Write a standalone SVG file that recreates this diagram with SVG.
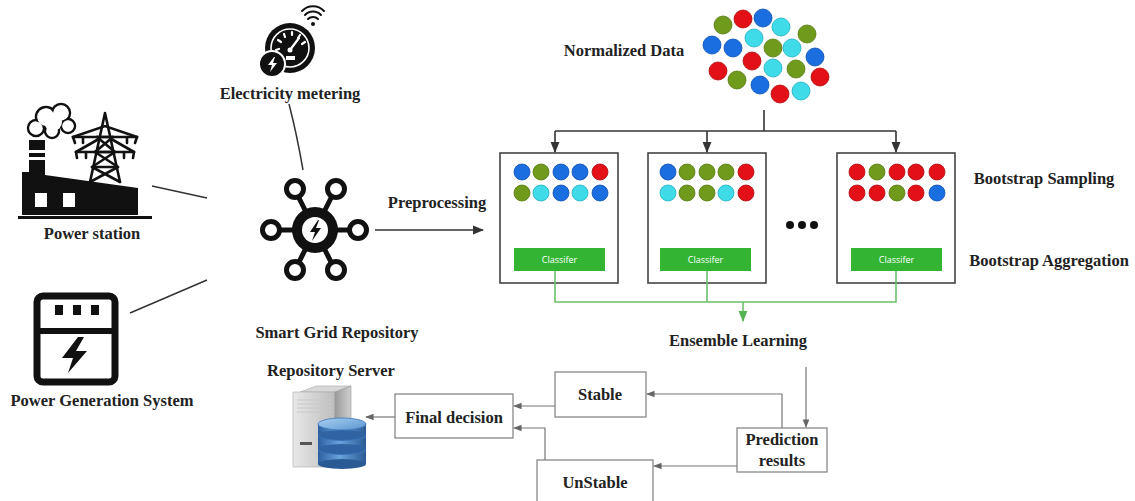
<svg xmlns="http://www.w3.org/2000/svg" width="1135" height="501" viewBox="0 0 1135 501">
  <style>
    .lbl { font-family: "Liberation Serif", "Times New Roman", serif; font-weight: bold; font-size: 16.5px; fill: #222; text-anchor: middle; }
    .box { fill: #fff; stroke: #444; stroke-width: 1.6; }
    .sbox { fill: #fff; stroke: #888; stroke-width: 1.3; }
    .clf { fill: #33b533; }
    .clft { font-family: "Open Sans", "Liberation Sans", sans-serif; font-size: 9px; fill: #fff; text-anchor: middle; }
    .blk { stroke: #333; stroke-width: 1.6; fill: none; }
    .grn { stroke: #6cc06c; stroke-width: 1.6; fill: none; }
    .gry { stroke: #777; stroke-width: 1.2; fill: none; }
    .lnk { stroke: #333; stroke-width: 1.5; fill: none; }
    .b { fill: #1a6ee0; stroke: #0c4fb0; stroke-width: 0.8; }
    .g { fill: #6f9a1c; stroke: #557a10; stroke-width: 0.8; }
    .r { fill: #e41018; stroke: #b00a10; stroke-width: 0.8; }
    .c { fill: #3fdbe8; stroke: #1fb0c0; stroke-width: 0.8; }
    .icon { fill: #111; }
  </style>
  <defs>
    <marker id="ah" viewBox="0 0 10 10" refX="9" refY="5" markerWidth="7" markerHeight="7" orient="auto">
      <path d="M0,1 L10,5 L0,9 z" fill="#333"/>
    </marker>
    <marker id="ahg" viewBox="0 0 10 10" refX="9" refY="5" markerWidth="7" markerHeight="7" orient="auto">
      <path d="M0,1 L10,5 L0,9 z" fill="#55b555"/>
    </marker>
    <marker id="ahs" viewBox="0 0 10 10" refX="9" refY="5" markerWidth="7" markerHeight="7" orient="auto">
      <path d="M0,1 L10,5 L0,9 z" fill="#666"/>
    </marker>
    <linearGradient id="towerFront" x1="0" y1="0" x2="1" y2="0">
      <stop offset="0" stop-color="#e8e8e8"/>
      <stop offset="1" stop-color="#bdbdbd"/>
    </linearGradient>
    <linearGradient id="towerSide" x1="0" y1="0" x2="1" y2="0">
      <stop offset="0" stop-color="#9a9a9a"/>
      <stop offset="1" stop-color="#cfcfcf"/>
    </linearGradient>
    <linearGradient id="dbBody" x1="0" y1="0" x2="1" y2="0">
      <stop offset="0" stop-color="#2c5f9e"/>
      <stop offset="0.45" stop-color="#6aa3dc"/>
      <stop offset="1" stop-color="#2a5a94"/>
    </linearGradient>
    <linearGradient id="dbTop" x1="0" y1="0" x2="1" y2="1">
      <stop offset="0" stop-color="#a9d0f2"/>
      <stop offset="1" stop-color="#5b95d0"/>
    </linearGradient>
  </defs>

  <!-- Power station -->
  <g id="power-station">
    <path class="icon" d="M22,215 L22,172 L29,172 L29,140 L45,140 L45,175 L138,188 L138,215 Z"/>
    <rect x="29" y="150" width="16" height="3" fill="#fff"/>
    <rect x="29" y="157" width="16" height="3" fill="#fff"/>
    <g fill="#fff" stroke="#111" stroke-width="2.5">
      <circle cx="36" cy="128" r="8"/>
      <circle cx="46" cy="117" r="10"/>
      <circle cx="61" cy="113" r="9"/>
      <circle cx="68" cy="126" r="7"/>
      <circle cx="52" cy="131" r="7"/>
    </g>
    <g fill="#fff">
      <circle cx="36" cy="128" r="6.5"/>
      <circle cx="46" cy="117" r="8.5"/>
      <circle cx="61" cy="113" r="7.5"/>
      <circle cx="68" cy="126" r="5.5"/>
      <circle cx="52" cy="131" r="5.5"/>
      <circle cx="53" cy="122" r="9"/>
    </g>
    <g stroke="#111" stroke-width="2.6" fill="none" stroke-linecap="round">
      <path d="M105,113 L90,182 M105,113 L120,182"/>
      <path d="M97,137 L113,137 M95,152 L115,152 M92,167 L118,167"/>
      <path d="M97,137 L115,152 M113,137 L95,152 M95,152 L118,167 M115,152 L92,167 M92,167 L120,182 M118,167 L90,182"/>
      <path d="M73,137 L137,137 M76,152 L134,152"/>
      <path d="M73,137 L75,143 M83,137 L83,143 M127,137 L127,143 M137,137 L135,143"/>
      <path d="M76,152 L77,158 M86,152 L86,158 M124,152 L124,158 M134,152 L133,158"/>
      <path d="M73,137 L105,126 L137,137 M76,152 L97,140 M134,152 L113,140"/>
    </g>
    <rect x="35" y="193" width="12" height="14" fill="#fff"/>
    <rect x="63" y="193" width="12" height="14" fill="#fff"/>
    <rect x="18" y="216" width="134" height="3" class="icon"/>
    <text class="lbl" x="92" y="239">Power station</text>
  </g>

  <!-- Power generation system -->
  <g id="power-generation">
    <rect x="37" y="296" width="78" height="86" rx="6" fill="#fff" stroke="#111" stroke-width="7"/>
    <path d="M40,331 L112,331" stroke="#111" stroke-width="6"/>
    <rect x="55" y="305" width="8" height="10" class="icon"/>
    <rect x="73" y="305" width="8" height="10" class="icon"/>
    <rect x="91" y="305" width="8" height="10" class="icon"/>
    <path class="icon" d="M78,337 L62,358 L73,358 L68,373 L87,351 L76,351 L84,337 Z"/>
    <text class="lbl" x="102" y="406">Power Generation System</text>
  </g>

  <!-- Electricity metering -->
  <g id="electricity-metering">
    <circle cx="290" cy="48" r="25" class="icon"/>
    <circle cx="290" cy="48" r="19" fill="none" stroke="#fff" stroke-width="1.6"/>
    <g stroke="#fff" stroke-width="2.2" stroke-linecap="round">
      <path d="M276,50 L279,49 M278,40 L281,42 M284,34 L285,37 M292,32 L292,35 M300,35 L298,38 M305,42 L302,44"/>
      <path d="M290,50 L299,38"/>
    </g>
    <circle cx="290" cy="50" r="2.5" fill="#fff"/>
    <rect x="286" y="56" width="9" height="4" fill="#fff"/>
    <circle cx="272" cy="64" r="13" class="icon" stroke="#fff" stroke-width="2"/>
    <path d="M274,57 L268,65 L272,65 L270,72 L277,63 L273,63 L275,57 Z" fill="#fff"/>
    <circle cx="313" cy="24" r="2" class="icon"/>
    <g stroke="#111" stroke-width="2" fill="none" stroke-linecap="round">
      <path d="M308,19 A7,7 0 0 1 318,19"/>
      <path d="M305,15 A11,11 0 0 1 321,15"/>
      <path d="M302,11 A15,15 0 0 1 324,11"/>
    </g>
    <text class="lbl" x="290" y="99">Electricity metering</text>
  </g>

  <!-- Smart grid hub -->
  <g id="smart-grid">
    <g stroke="#111" stroke-width="5">
      <path d="M315,230 L295,190 M315,230 L335,190 M315,230 L272,230 M315,230 L357,230 M315,230 L295,270 M315,230 L335,270"/>
    </g>
    <g fill="#fff" stroke="#111" stroke-width="5">
      <circle cx="295" cy="189" r="8.5"/>
      <circle cx="336" cy="189" r="8.5"/>
      <circle cx="271" cy="230" r="8.5"/>
      <circle cx="358" cy="230" r="8.5"/>
      <circle cx="295" cy="270" r="8.5"/>
      <circle cx="336" cy="270" r="8.5"/>
    </g>
    <circle cx="315" cy="230" r="23" class="icon"/>
    <circle cx="315" cy="230" r="13" fill="#fff"/>
    <path class="icon" d="M318,220 L310,232 L315,232 L312,241 L321,228 L316,228 L319,220 Z"/>
    <text class="lbl" x="337" y="338">Smart Grid Repository</text>
  </g>

  <!-- Repository server -->
  <g id="repository-server">
    <text class="lbl" x="331" y="376">Repository Server</text>
    <path d="M300,392 L316,386 L351,386 L335,392 Z" fill="#d8d8d8" stroke="#aaa" stroke-width="0.6"/>
    <rect x="293" y="392" width="42" height="75" fill="url(#towerFront)" stroke="#aaa" stroke-width="0.6"/>
    <path d="M335,392 L351,386 L351,460 L335,467 Z" fill="url(#towerSide)" stroke="#999" stroke-width="0.6"/>
    <g stroke="#c8c8c8" stroke-width="1">
      <path d="M297,400 L332,400 M297,404 L332,404 M297,408 L332,408 M297,412 L332,412"/>
    </g>
    <rect x="300" y="442" width="12" height="3" fill="#555"/>
    <g>
      <rect x="318" y="450" width="48" height="14" fill="url(#dbBody)"/>
      <ellipse cx="342" cy="464" rx="24" ry="5" fill="#2a5a94"/>
      <ellipse cx="342" cy="450" rx="24" ry="5" fill="#3a74b8"/>
      <rect x="318" y="436" width="48" height="13" fill="url(#dbBody)"/>
      <ellipse cx="342" cy="449" rx="24" ry="5" fill="#2f63a2"/>
      <ellipse cx="342" cy="436" rx="24" ry="5" fill="#3a74b8"/>
      <rect x="318" y="424" width="48" height="11" fill="url(#dbBody)"/>
      <ellipse cx="342" cy="435" rx="24" ry="5" fill="#2f63a2"/>
      <ellipse cx="342" cy="424" rx="24" ry="6" fill="url(#dbTop)" stroke="#3a74b8" stroke-width="0.8"/>
    </g>
  </g>

  <!-- Normalized data cluster -->
  <g id="normalized-data">
    <text class="lbl" x="624" y="56">Normalized Data</text>
    <circle class="g" cx="723" cy="25" r="9"/>
    <circle class="r" cx="743" cy="19" r="9"/>
    <circle class="b" cx="763" cy="18" r="9"/>
    <circle class="c" cx="781" cy="27" r="9"/>
    <circle class="g" cx="807" cy="34" r="9"/>
    <circle class="b" cx="712" cy="45" r="9"/>
    <circle class="b" cx="733" cy="48" r="9"/>
    <circle class="c" cx="754" cy="38" r="9"/>
    <circle class="g" cx="773" cy="48" r="9"/>
    <circle class="c" cx="792" cy="48" r="9"/>
    <circle class="b" cx="815" cy="57" r="9"/>
    <circle class="r" cx="752" cy="61" r="9"/>
    <circle class="c" cx="773" cy="68" r="9"/>
    <circle class="g" cx="796" cy="69" r="9"/>
    <circle class="r" cx="718" cy="71" r="9"/>
    <circle class="g" cx="737" cy="80" r="9"/>
    <circle class="b" cx="760" cy="85" r="9"/>
    <circle class="r" cx="780" cy="94" r="9"/>
    <circle class="c" cx="801" cy="91" r="9"/>
    <circle class="r" cx="820" cy="77" r="9"/>
  </g>

  <!-- Bootstrap sample 1 -->
  <g id="sample-1">
    <rect class="box" x="500" y="153" width="118" height="130"/>
    <circle class="b" cx="522" cy="172" r="8"/><circle class="g" cx="541" cy="172" r="8"/><circle class="b" cx="561" cy="172" r="8"/><circle class="b" cx="580" cy="172" r="8"/><circle class="r" cx="600" cy="172" r="8"/>
    <circle class="g" cx="522" cy="193" r="8"/><circle class="c" cx="541" cy="193" r="8"/><circle class="b" cx="561" cy="193" r="8"/><circle class="c" cx="580" cy="193" r="8"/><circle class="b" cx="600" cy="193" r="8"/>
    <rect class="clf" x="514" y="248" width="91" height="23"/>
    <text class="clft" x="559.5" y="263">Classifer</text>
  </g>

  <!-- Bootstrap sample 2 -->
  <g id="sample-2">
    <rect class="box" x="648" y="153" width="118" height="130"/>
    <circle class="b" cx="668" cy="172" r="8"/><circle class="g" cx="687" cy="172" r="8"/><circle class="g" cx="707" cy="172" r="8"/><circle class="g" cx="726" cy="172" r="8"/><circle class="r" cx="746" cy="172" r="8"/>
    <circle class="c" cx="668" cy="193" r="8"/><circle class="g" cx="687" cy="193" r="8"/><circle class="g" cx="707" cy="193" r="8"/><circle class="c" cx="726" cy="193" r="8"/><circle class="r" cx="746" cy="193" r="8"/>
    <rect class="clf" x="660" y="248" width="91" height="23"/>
    <text class="clft" x="705.5" y="263">Classifer</text>
  </g>

  <!-- Ellipsis between samples -->
  <g id="ellipsis" fill="#111">
    <circle cx="790" cy="225" r="4"/>
    <circle cx="802" cy="225" r="4"/>
    <circle cx="814" cy="225" r="4"/>
  </g>

  <!-- Bootstrap sample n -->
  <g id="sample-n">
    <rect class="box" x="837" y="153" width="118" height="130"/>
    <circle class="r" cx="857" cy="172" r="8"/><circle class="g" cx="877" cy="172" r="8"/><circle class="r" cx="897" cy="172" r="8"/><circle class="r" cx="916" cy="172" r="8"/><circle class="r" cx="937" cy="172" r="8"/>
    <circle class="r" cx="857" cy="193" r="8"/><circle class="r" cx="877" cy="193" r="8"/><circle class="g" cx="897" cy="193" r="8"/><circle class="r" cx="916" cy="193" r="8"/><circle class="b" cx="937" cy="193" r="8"/>
    <rect class="clf" x="851" y="248" width="91" height="23"/>
    <text class="clft" x="896.5" y="263">Classifer</text>
  </g>

  <g id="stage-labels">
    <text class="lbl" x="1044" y="184">Bootstrap Sampling</text>
    <text class="lbl" x="1049" y="266">Bootstrap Aggregation</text>
    <text class="lbl" x="437" y="208">Preprocessing</text>
    <text class="lbl" x="738" y="346">Ensemble Learning</text>
  </g>

  <!-- Decision boxes -->
  <g id="stable">
    <rect class="sbox" x="555" y="372" width="91" height="45"/>
    <text class="lbl" x="600" y="400">Stable</text>
  </g>
  <g id="unstable">
    <rect class="sbox" x="537" y="460" width="116" height="50"/>
    <text class="lbl" x="595" y="488">UnStable</text>
  </g>
  <g id="prediction">
    <rect class="sbox" x="737" y="428" width="90" height="44"/>
    <text class="lbl" x="782" y="445">Prediction</text>
    <text class="lbl" x="782" y="466">results</text>
  </g>
  <g id="final-decision">
    <rect class="sbox" x="395" y="394" width="118" height="44"/>
    <text class="lbl" x="454" y="423">Final decision</text>
  </g>

  <!-- Connectors -->
  <g id="connectors">
    <path class="lnk" d="M152,186 L207,198"/>
    <path class="lnk" d="M130,313 L207,280"/>
    <path class="lnk" d="M289,104 Q297,135 303,170"/>
    <path class="blk" d="M375,230 L483,230" marker-end="url(#ah)"/>
    <path class="blk" d="M764,110 L764,131"/>
    <path class="blk" d="M555,131 L896,131"/>
    <path class="blk" d="M555,131 L555,152" marker-end="url(#ah)"/>
    <path class="blk" d="M707,131 L707,152" marker-end="url(#ah)"/>
    <path class="blk" d="M896,131 L896,152" marker-end="url(#ah)"/>
    <path class="grn" d="M555,271 L555,302 L896,302 L896,271 M707,271 L707,302"/>
    <path class="grn" d="M743,302 L743,321" marker-end="url(#ahg)"/>
    <path class="gry" d="M806,367 L806,427" marker-end="url(#ahs)"/>
    <path class="gry" d="M782,428 L782,394 L647,394" marker-end="url(#ahs)"/>
    <path class="gry" d="M737,466 L654,466" marker-end="url(#ahs)"/>
    <path class="gry" d="M555,406 L514,406" marker-end="url(#ahs)"/>
    <path class="gry" d="M545,460 L545,428 L514,428" marker-end="url(#ahs)"/>
    <path class="gry" d="M395,417 L366,417" marker-end="url(#ahs)"/>
  </g>
</svg>
